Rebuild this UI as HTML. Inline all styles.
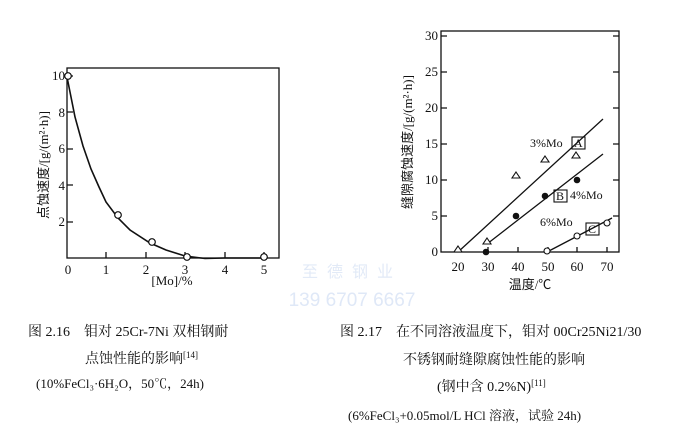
<!DOCTYPE html>
<html><head><meta charset="utf-8"><style>
body{margin:0;background:#fff;}
svg text{font-family:"Liberation Serif","Noto Serif CJK SC",serif;}
.cj{font-family:"Liberation Serif","Noto Sans CJK SC",sans-serif;}
</style></head><body>
<svg width="700" height="437" viewBox="0 0 700 437" xmlns="http://www.w3.org/2000/svg">
<rect width="700" height="437" fill="#fff"/>
<!-- left chart -->
<g stroke="#111" stroke-width="1.3" fill="none">
<rect x="67" y="68" width="212" height="190"/>
<path d="M67,222h6M67,185h6M67,149h6M67,112h6M67,76h6"/>
<path d="M106,258v-6M146,258v-6M185,258v-6M225,258v-6M264,258v-6"/>
<polyline stroke-width="1.6" points="67,77 75,117 83,146 91,169 99,187 106,202 118,218 130,230 150,243 166,250 185,256 205,258.5 225,258 264,258"/>
</g>
<g fill="#fff" stroke="#111" stroke-width="1.2">
<circle cx="68" cy="76" r="3.3"/><circle cx="118" cy="215" r="3.3"/><circle cx="152" cy="242" r="3.3"/><circle cx="187" cy="257" r="3.3"/><circle cx="264" cy="257" r="3.3"/>
</g>
<g font-size="13" text-anchor="end" fill="#111">
<text x="65" y="80">10</text><text x="65" y="117">8</text><text x="65" y="153">6</text><text x="65" y="190">4</text><text x="65" y="226">2</text>
</g>
<g font-size="13" text-anchor="middle" fill="#111">
<text x="68" y="274">0</text><text x="106" y="274">1</text><text x="146" y="274">2</text><text x="185" y="274">3</text><text x="225" y="274">4</text><text x="264" y="274">5</text>
<text x="172" y="285">[Mo]/%</text>
</g>
<text class="cj" fill="#111" font-size="13" transform="translate(48,165) rotate(-90)" text-anchor="middle">点蚀速度/[g/(m²·h)]</text>
<!-- right chart -->
<g stroke="#111" stroke-width="1.3" fill="none">
<rect x="441" y="31" width="178" height="221"/>
<path d="M441,216h6M441,180h6M441,144h6M441,108h6M441,72h6M441,36h6"/>
<path d="M619,216h-6M619,180h-6M619,144h-6M619,108h-6M619,72h-6M619,36h-6"/>
<path d="M458,252v-5M488,252v-5M518,252v-5M548,252v-5M577,252v-5M607,252v-5"/>
<path d="M458,252L603,119M487,244L603,154M547,252L612,218"/>
<rect x="572" y="137" width="13" height="12" stroke-width="1.1"/>
<rect x="554" y="190" width="13" height="12" stroke-width="1.1"/>
<rect x="586" y="223" width="13" height="12" stroke-width="1.1"/>
</g>
<g fill="#fff" stroke="#111" stroke-width="1.1">
<path d="M458,246l4,6h-8z M487,238l4,6h-8z M516,172l4,6h-8z M545,156l4,6h-8z M576,152l4,6h-8z"/>
<circle cx="547" cy="251" r="3"/><circle cx="577" cy="236" r="3"/><circle cx="607" cy="223" r="3"/>
</g>
<g fill="#111"><circle cx="486" cy="252" r="3.3"/><circle cx="516" cy="216" r="3.3"/><circle cx="545" cy="196" r="3.3"/><circle cx="577" cy="180" r="3.3"/></g>
<g font-size="12" fill="#111">
<text x="530" y="147">3%Mo</text><text x="574" y="147">A</text>
<text x="556" y="200">B</text><text x="570" y="199">4%Mo</text>
<text x="540" y="226">6%Mo</text><text x="588" y="233">C</text>
</g>
<g font-size="13" text-anchor="end" fill="#111">
<text x="438" y="256">0</text><text x="438" y="220">5</text><text x="438" y="184">10</text><text x="438" y="148">15</text><text x="438" y="112">20</text><text x="438" y="76">25</text><text x="438" y="40">30</text>
</g>
<g font-size="13" text-anchor="middle" fill="#111">
<text x="458" y="271">20</text><text x="488" y="271">30</text><text x="518" y="271">40</text><text x="548" y="271">50</text><text x="577" y="271">60</text><text x="607" y="271">70</text>
</g>
<text class="cj" fill="#111" x="530" y="289" font-size="13" text-anchor="middle">温度/℃</text>
<text class="cj" fill="#111" font-size="13" transform="translate(412,142) rotate(-90)" text-anchor="middle">缝隙腐蚀速度/[g/(m²·h)]</text>
<!-- watermark -->
<text class="cj" x="352" y="277" font-size="16" letter-spacing="9" text-anchor="middle" fill="#e2eaf7">至德钢业</text>
<text x="352" y="306" font-size="19" text-anchor="middle" fill="#dfe8f7" style="font-family:'Liberation Sans',sans-serif">139 6707 6667</text>
<!-- captions -->
<g class="cj" font-size="14" fill="#111">
<text x="28" y="336">图 2.16　钼对 25Cr-7Ni 双相钢耐</text>
<text x="85" y="363">点蚀性能的影响<tspan font-size="9" dy="-5">[14]</tspan></text>
<text x="36" y="388" font-size="13">(10%FeCl₃·6H₂O，50℃，24h)</text>
<text x="340" y="336">图 2.17　在不同溶液温度下，钼对 00Cr25Ni21/30</text>
<text x="403" y="364">不锈钢耐缝隙腐蚀性能的影响</text>
<text x="437" y="391">(钢中含 0.2%N)<tspan font-size="9" dy="-5">[11]</tspan></text>
<text x="348" y="420" font-size="13">(6%FeCl₃+0.05mol/L HCl 溶液，试验 24h)</text>
</g>
</svg>
</body></html>
